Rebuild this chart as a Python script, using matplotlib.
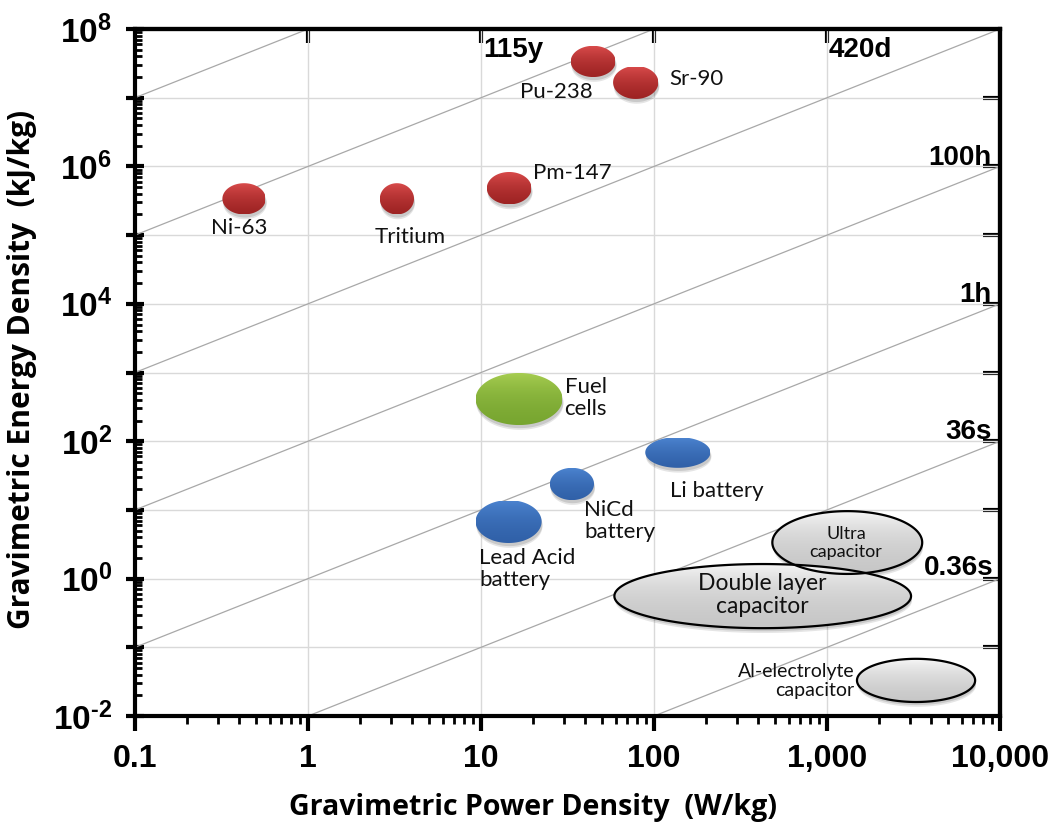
import numpy as np
import matplotlib
matplotlib.use('Agg')
import matplotlib.pyplot as plt
from matplotlib.patches import Polygon
from matplotlib.ticker import LogLocator, NullFormatter, NullLocator

plt.rcParams['mathtext.fontset'] = 'custom'
plt.rcParams['mathtext.rm'] = 'Liberation Sans:bold'
plt.rcParams['mathtext.bf'] = 'Liberation Sans:bold'

# technology regions: power range (W/kg) and energy range (kJ/kg)
names = ['Ni-63', 'Tritium', 'Pm-147', 'Pu-238', 'Sr-90', 'Fuel cells',
         'Li battery', 'NiCd battery', 'Lead Acid battery', 'Ultra capacitor',
         'Double layer capacitor', 'Al-electrolyte capacitor']
p_low = [0.32, 2.6, 10.8, 33, 58, 9.3, 89, 25, 9.3, 483, 59, 1490]
p_high = [0.57, 4.1, 19.6, 60, 106, 29.6, 212, 45, 22.4, 3550, 3060, 7180]
e_low = [2.0e5, 2.0e5, 2.8e5, 2.0e7, 9.6e6, 172, 41, 13.9, 3.3, 1.17, 0.19, 0.016]
e_high = [5.7e5, 5.7e5, 8.3e5, 5.7e7, 2.9e7, 985, 115, 41, 13.9, 9.6, 1.63, 0.068]
groups = ['nuclear'] * 5 + ['fuel', 'battery', 'battery', 'battery', 'cap', 'cap', 'cap']

# lines of constant energy/power ratio (kJ/kg per W/kg)
ratios = [1e8, 1e6, 1e4, 1e2, 1e0, 1e-2, 1e-4]
time_labels = ['115y', '420d', '100h', '1h', '36s', '0.36s']

x_ticks = [0.1, 1, 10, 100, 1000, 10000]
x_labels = ['0.1', '1', '10', '100', '1,000', '10,000']
y_ticks = [10.0 ** k for k in range(-2, 9)]
y_labels = []
for k in range(-2, 9):
    if k % 2:
        y_labels.append('')
    elif k < 0:
        y_labels.append(r'$\mathbf{10^{\text{-}%d}}$' % -k)
    else:
        y_labels.append(r'$\mathbf{10^{%d}}$' % k)

colors = {
    'nuclear': ((0.86, 0.30, 0.30), (0.62, 0.14, 0.14), None),
    'fuel': ((0.66, 0.81, 0.32), (0.47, 0.65, 0.19), None),
    'battery': ((0.30, 0.52, 0.82), (0.19, 0.38, 0.66), None),
    'cap': ((0.97, 0.97, 0.97), (0.78, 0.78, 0.78), 'black'),
}

fig = plt.figure(figsize=(10.58, 8.27), dpi=100)
ax = fig.add_axes([0.1276, 0.1342, 0.8176, 0.8307])
ax.set_xscale('log')
ax.set_yscale('log')
ax.set_xlim(0.1, 10000)
ax.set_ylim(1e-2, 1e8)
ax.autoscale(False)
ax.set_axisbelow(True)
ax.grid(True, which='major', color='#d9d9d9', lw=1)

for r in ratios:
    pp = np.array([1e-2, 1e5])
    ax.plot(pp, r * pp, color='#a8a8a8', lw=0.9, zorder=1)

t = np.linspace(0, 2 * np.pi, 240)
for i in range(len(names)):
    lx0, lx1 = np.log10(p_low[i]), np.log10(p_high[i])
    ly0, ly1 = np.log10(e_low[i]), np.log10(e_high[i])
    cx, cy = (lx0 + lx1) / 2, (ly0 + ly1) / 2
    a, b = (lx1 - lx0) / 2, (ly1 - ly0) / 2
    xs = 10 ** (cx + a * np.cos(t))
    ys = 10 ** (cy + b * np.sin(t))
    top, bot, edge = colors[groups[i]]
    # soft shadow
    for k, al in [(0.07, 0.10), (0.045, 0.12)]:
        ax.fill(xs * 10 ** 0.005, ys * 10 ** (-k), color='black', alpha=al, lw=0, zorder=2)
    poly = Polygon(np.column_stack([xs, ys]), closed=True, facecolor='none',
                   edgecolor=edge if edge else 'none', lw=1.6, zorder=4,
                   transform=ax.transData)
    ax.add_patch(poly)
    g = np.linspace(0, 1, 120)[:, None, None]
    img = np.array(top)[None, None, :] * (1 - g) + np.array(bot)[None, None, :] * g
    im = ax.imshow(img, extent=[p_low[i], p_high[i], e_low[i], e_high[i]],
                   origin='upper', aspect='auto', interpolation='bilinear', zorder=3)
    im.set_clip_path(poly)

ax.set_xlim(0.1, 10000)
ax.set_ylim(1e-2, 1e8)

lab = dict(fontsize=16, family='Lato', color='#111111', zorder=6, linespacing=1.15)
ax.text(0.40, 1.27e5, 'Ni-63', ha='center', va='center', **lab)
ax.text(3.9, 9.4e4, 'Tritium', ha='center', va='center', **lab)
ax.text(19.9, 8.0e5, 'Pm-147', ha='left', va='center', **lab)
ax.text(27.3, 1.2e7, 'Pu-238', ha='center', va='center', **lab)
ax.text(123, 1.9e7, 'Sr-90', ha='left', va='center', **lab)
ax.text(30.4, 425, 'Fuel\ncells', ha='left', va='center', **lab)
ax.text(123, 18.8, 'Li battery', ha='left', va='center', **lab)
ax.text(39.6, 6.9, 'NiCd\nbattery', ha='left', va='center', **lab)
ax.text(9.8, 1.38, 'Lead Acid\nbattery', ha='left', va='center', **lab)
ax.text(1290, 3.3, 'Ultra\ncapacitor', ha='center', va='center',
        **{**lab, 'fontsize': 13})
ax.text(420, 0.58, 'Double layer\ncapacitor', ha='center', va='center',
        **{**lab, 'fontsize': 16.5})
ax.text(1435, 0.032, 'Al-electrolyte\ncapacitor', ha='right', va='center',
        **{**lab, 'fontsize': 14})

tl = dict(fontsize=20, family='Liberation Sans', weight='bold', transform=ax.transAxes,
          va='center', zorder=6)
ax.text(0.403, 0.969, time_labels[0], ha='left', **tl)
ax.text(0.802, 0.969, time_labels[1], ha='left', **tl)
ax.text(0.990, 0.812, time_labels[2], ha='right', **tl)
ax.text(0.990, 0.613, time_labels[3], ha='right', **tl)
ax.text(0.990, 0.413, time_labels[4], ha='right', **tl)
ax.text(0.993, 0.215, time_labels[5], ha='right', **tl)

# ticks
ax.set_xticks(x_ticks, x_labels)
ax.set_yticks(y_ticks, y_labels)
ax.xaxis.set_minor_locator(LogLocator(base=10, subs=np.arange(2, 10)))
ax.yaxis.set_minor_locator(LogLocator(base=10, subs=np.arange(2, 10), numticks=20))
ax.xaxis.set_minor_formatter(NullFormatter())
ax.yaxis.set_minor_formatter(NullFormatter())
ax.tick_params(axis='x', which='major', direction='out', length=11, width=3, pad=9,
               labelsize=23)
ax.tick_params(axis='x', which='minor', direction='out', length=6, width=2)
ax.tick_params(axis='y', which='major', direction='inout', length=13, width=3, pad=10,
               labelsize=24)
ax.tick_params(axis='y', which='minor', direction='in', length=5, width=2)
for lbl in ax.get_xticklabels():
    lbl.set_family('Liberation Sans')
    lbl.set_weight('bold')
for s in ax.spines.values():
    s.set_linewidth(3)

sec_x = ax.secondary_xaxis('top')
sec_x.set_xticks([1, 10, 100, 1000], ['', '', '', ''])
sec_x.xaxis.set_minor_locator(NullLocator())
sec_x.tick_params(direction='in', length=10, width=3)
sec_x.spines['top'].set_linewidth(3)

sec_y = ax.secondary_yaxis('right')
sec_y.set_yticks([10.0 ** k for k in range(-1, 8)], [''] * 9)
sec_y.yaxis.set_minor_locator(NullLocator())
sec_y.tick_params(direction='in', length=12, width=3)
sec_y.spines['right'].set_linewidth(3)

fig.text(0.504, 0.024, 'Gravimetric Power Density  (W/kg)', ha='center', va='center',
         fontsize=20.5, family='Open Sans', weight='bold')
fig.text(0.021, 0.553, 'Gravimetric Energy Density  (kJ/kg)', ha='center', va='center',
         rotation=90, fontsize=21.5, family='Open Sans', weight='bold')

fig.savefig('out.png', dpi=100)
